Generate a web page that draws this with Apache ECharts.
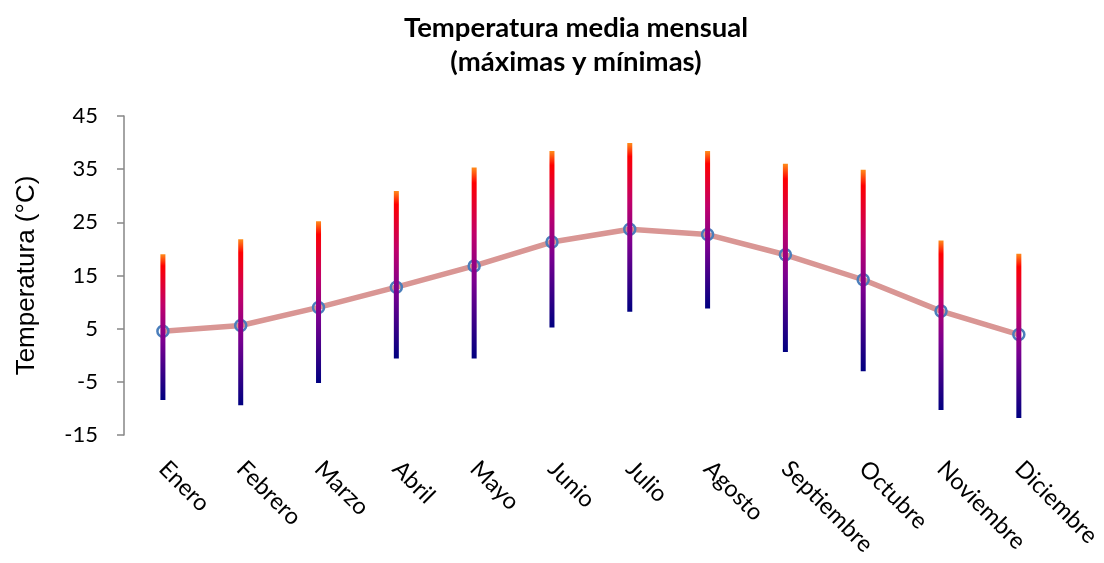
<!DOCTYPE html>
<html>
<head>
<meta charset="utf-8">
<script src="https://cdn.jsdelivr.net/npm/echarts@6/dist/echarts.min.js"></script>
<style>html,body{margin:0;padding:0;background:#fff;}#c{width:1104px;height:563px;}</style>
</head>
<body>
<div id="c"></div>
<script>
const months = ['Enero','Febrero','Marzo','Abril','Mayo','Junio','Julio','Agosto','Septiembre','Octubre','Noviembre','Diciembre'];
const tMax = [19.0, 21.8, 25.2, 30.9, 35.3, 38.4, 39.9, 38.4, 36.0, 34.9, 21.6, 19.1];
const tMin = [-8.4, -9.4, -5.2, -0.6, -0.6, 5.2, 8.2, 8.8, 0.6, -3.0, -10.3, -11.8];
const tMean = [4.5, 5.6, 9.0, 12.8, 16.8, 21.3, 23.7, 22.7, 18.9, 14.2, 8.3, 3.9];

const chart = echarts.init(document.getElementById('c'), null, {renderer: 'canvas'});
const rangeData = months.map((m, i) => [i, tMin[i], tMax[i]]);

chart.setOption({
  animation: false,
  backgroundColor: '#fff',
  title: {
    text: 'Temperatura media mensual\n(máximas y mínimas)',
    left: 571, textAlign: 'center', top: 6,
    textStyle: {fontFamily: 'Lato', fontWeight: 'bold', fontSize: 27.5, color: '#000', lineHeight: 34}
  },
  grid: {left: 124, top: 116, right: 45, bottom: 128, containLabel: false},
  xAxis: {
    type: 'category', data: months, boundaryGap: true,
    axisLine: {show: false}, axisTick: {show: false}, splitLine: {show: false},
    axisLabel: {rotate: -45, margin: 30, fontFamily: 'Lato', fontSize: 23.5, color: '#000', interval: 0}
  },
  yAxis: {
    type: 'value', min: -15, max: 45, interval: 10,
    name: 'Temperatura (°C)', nameLocation: 'middle', nameGap: 84,
    nameTextStyle: {fontFamily: 'Liberation Sans', fontSize: 26, color: '#000'},
    axisLine: {show: true, lineStyle: {color: '#868686', width: 1.5}},
    axisTick: {show: true, inside: false, length: 7, lineStyle: {color: '#868686', width: 1.5}},
    splitLine: {show: false},
    axisLabel: {fontFamily: 'Lato', fontSize: 22, color: '#000', margin: 26}
  },
  series: [
    {
      type: 'line', data: tMean, z: 2,
      lineStyle: {color: '#D99694', width: 5.5},
      symbol: 'circle', symbolSize: 11,
      itemStyle: {color: 'rgba(0,0,0,0)', borderColor: '#4A7EBB', borderWidth: 2.5}
    },
    {
      type: 'custom', data: rangeData, z: 3,
      encode: {x: 0, y: [1, 2]},
      renderItem: function (params, api) {
        const i = api.value(0);
        const lo = api.coord([i, api.value(1)]);
        const hi = api.coord([i, api.value(2)]);
        const w = 5;
        return {
          type: 'rect',
          shape: {x: hi[0] - w / 2, y: hi[1], width: w, height: lo[1] - hi[1]},
          style: {
            fill: new echarts.graphic.LinearGradient(0, 0, 0, 1, [
              {offset: 0, color: '#FF8C1A'},
              {offset: 0.08, color: '#FF0000'},
              {offset: 0.35, color: '#C0006A'},
              {offset: 0.6, color: '#7A0090'},
              {offset: 1, color: '#000080'}
            ])
          }
        };
      }
    }
  ]
});
</script>
</body>
</html>
